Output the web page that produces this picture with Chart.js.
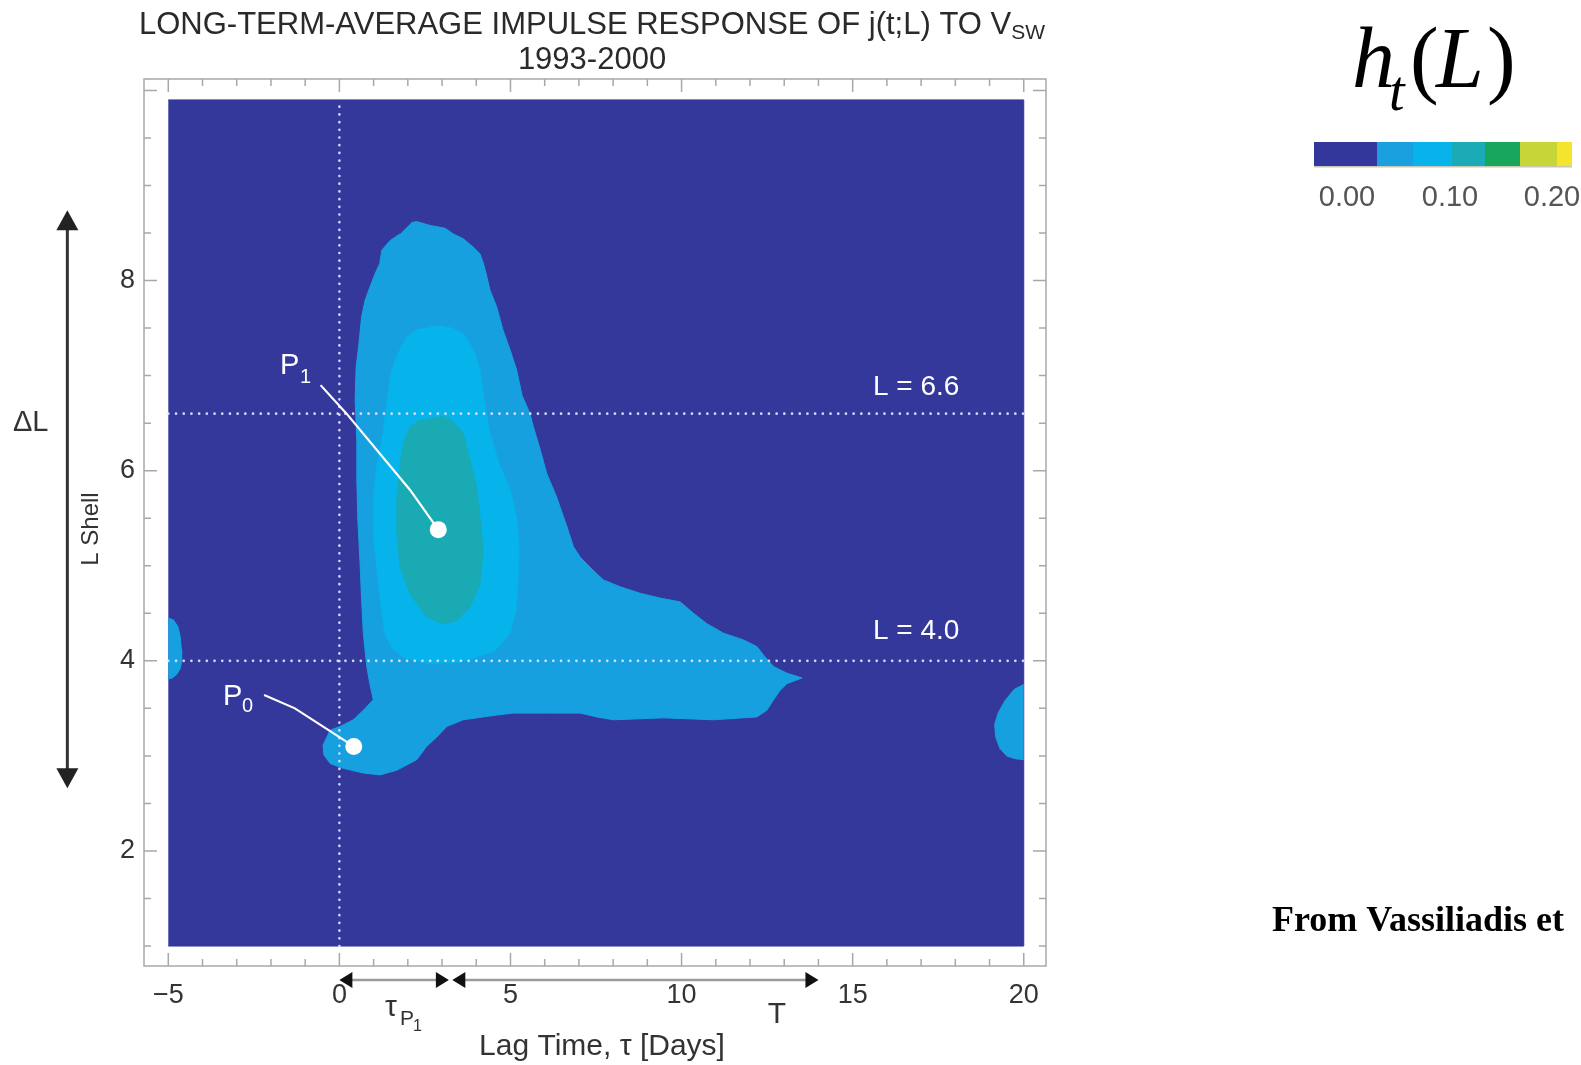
<!DOCTYPE html>
<html><head><meta charset="utf-8">
<script src="https://cdn.jsdelivr.net/npm/chart.js@4/dist/chart.umd.min.js"></script>
<style>html,body{margin:0;padding:0;background:#fff;overflow:hidden}canvas{display:block}</style>
</head><body>
<canvas id="c" width="1581" height="1065"></canvas>
<script>
// ---- data (lag time in days, L shell) ----
const xTicks = [-5, 0, 5, 10, 15, 20];
const yTicks = [2, 4, 6, 8];
const xFrame = [-5.71, 20.65];
const yFrame = [0.79, 10.12];
const backgroundField = [[-5, 1.0], [20, 1.0], [20, 9.9], [-5, 9.9]];
const contour1Main = [[2.11,8.61],[2.26,8.62],[2.65,8.58],[3.09,8.55],[3.33,8.49],[3.62,8.44],[3.92,8.35],[4.11,8.28],[4.21,8.18],[4.31,8.04],[4.40,7.90],[4.60,7.72],[4.78,7.48],[4.99,7.27],[5.18,7.06],[5.34,6.79],[5.57,6.60],[5.67,6.46],[5.87,6.22],[6.06,5.97],[6.35,5.72],[6.65,5.41],[6.84,5.20],[7.04,5.09],[7.42,4.95],[7.72,4.85],[8.20,4.78],[8.79,4.71],[9.37,4.66],[9.96,4.62],[10.35,4.50],[10.74,4.39],[11.23,4.29],[11.81,4.22],[12.20,4.15],[12.44,4.04],[12.69,3.94],[13.08,3.87],[13.52,3.82],[13.08,3.76],[12.88,3.69],[12.69,3.59],[12.49,3.48],[12.20,3.41],[10.93,3.38],[9.47,3.40],[8.01,3.38],[7.52,3.41],[7.04,3.45],[6.06,3.45],[5.08,3.45],[4.60,3.43],[3.62,3.38],[3.14,3.31],[2.85,3.20],[2.55,3.10],[2.26,2.96],[1.68,2.85],[1.19,2.80],[0.70,2.82],[0.11,2.87],[-0.27,2.92],[-0.45,3.01],[-0.48,3.11],[-0.27,3.27],[0.02,3.31],[0.41,3.38],[0.70,3.48],[0.99,3.59],[0.89,3.76],[0.80,3.94],[0.70,4.29],[0.65,4.64],[0.60,5.06],[0.54,5.48],[0.51,5.90],[0.51,6.32],[0.46,6.74],[0.49,7.09],[0.55,7.27],[0.60,7.44],[0.65,7.62],[0.75,7.79],[0.89,7.93],[1.04,8.07],[1.18,8.18],[1.24,8.32],[1.48,8.42],[1.77,8.49]];
const contour1Left = [[-5,4.45],[-4.85,4.43],[-4.72,4.36],[-4.65,4.25],[-4.62,4.12],[-4.61,4.0],[-4.65,3.92],[-4.75,3.86],[-4.88,3.82],[-5,3.81]];
const contour1Right = [[20,3.75],[19.72,3.70],[19.45,3.58],[19.25,3.45],[19.15,3.33],[19.18,3.2],[19.3,3.08],[19.5,3.0],[19.75,2.97],[20,2.96]];
const contour2 = [[2.65,7.51],[2.94,7.52],[3.29,7.50],[3.62,7.44],[3.92,7.27],[4.11,7.06],[4.23,6.74],[4.40,6.39],[4.70,6.04],[4.99,5.80],[5.19,5.48],[5.25,5.16],[5.22,4.85],[5.16,4.53],[4.99,4.29],[4.55,4.11],[4.11,4.05],[3.53,3.99],[2.65,3.97],[1.92,4.03],[1.54,4.13],[1.33,4.29],[1.19,4.64],[1.09,4.99],[0.99,5.34],[0.99,5.69],[1.09,6.04],[1.28,6.39],[1.39,6.74],[1.53,7.06],[1.68,7.21],[1.97,7.41],[2.30,7.49]];
const contour3 = [[2.65,6.55],[3.03,6.57],[3.29,6.53],[3.62,6.39],[3.82,6.11],[4.01,5.83],[4.11,5.51],[4.20,5.16],[4.11,4.81],[3.82,4.57],[3.44,4.43],[3.03,4.39],[2.56,4.46],[2.06,4.71],[1.77,4.99],[1.68,5.34],[1.68,5.69],[1.77,6.04],[1.87,6.29],[2.06,6.46],[2.36,6.53]];
const refShells = [6.6, 4.0];
const refShellLabels = ['L = 6.6', 'L = 4.0'];
const refLag = 0;
const pointP1 = [2.89, 5.38];
const pointP0 = [0.42, 3.10];
const leaderP1 = [[-0.55,6.90],[0.21,6.60],[2.06,5.80],[2.89,5.38]];
const leaderP0 = [[-2.2,3.64],[-1.3,3.50],[0.42,3.10]];
const arrowTauP1 = [0, 3.2];
const arrowT = [3.3, 14.0];
const arrowLagLevel = 0.644;
const arrowDeltaL = [2.66, 8.74];
const arrowDeltaLLag = -7.95;
const levelColors = ['#34389b', '#17a0e0', '#06b3ea', '#19aab4'];
const colorbarColors = ['#33369a', '#1a9fdf', '#07b3ea', '#1aabb7', '#17a65b', '#c8d538', '#f5e42c'];
const colorbarLabels = ['0.00', '0.10', '0.20'];

const xy = a => a.map(([x, y]) => ({x, y}));
const shape = (pts, color, order) => ({data: xy(pts), showLine: true, fill: 'shape', backgroundColor: color, borderColor: color, borderWidth: 1, pointRadius: 0, tension: 0, order});
const dotted = (pts, order) => ({data: xy(pts), showLine: true, fill: false, borderColor: 'rgba(228,232,255,0.9)', borderWidth: 2.6, borderDash: [0.1, 7.6], borderCapStyle: 'round', pointRadius: 0, order});

Chart.defaults.font.family = '"Liberation Sans", Arial, sans-serif';

const decor = {
  id: 'decor',
  afterDraw(chart) {
    const ctx = chart.ctx, xs = chart.scales.x, ys = chart.scales.y, a = chart.chartArea;
    const X = v => xs.getPixelForValue(v), Y = v => ys.getPixelForValue(v);
    ctx.save();
    // frame
    ctx.strokeStyle = '#a8a8a8'; ctx.lineWidth = 1.5;
    ctx.strokeRect(a.left, a.top, a.right - a.left, a.bottom - a.top);
    ctx.beginPath();
    for (let v = -5; v <= 20; v += 1) {
      const L = v % 5 === 0 ? 13 : 7, px = X(v);
      ctx.moveTo(px, a.bottom); ctx.lineTo(px, a.bottom - L);
      ctx.moveTo(px, a.top); ctx.lineTo(px, a.top + L);
    }
    for (let v = 1; v <= 10; v += 0.5) {
      const L = v % 2 === 0 ? 13 : 7, py = Y(v);
      ctx.moveTo(a.left, py); ctx.lineTo(a.left + L, py);
      ctx.moveTo(a.right, py); ctx.lineTo(a.right - L, py);
    }
    ctx.stroke();

    const head = (tx, ty, dx, dy, len, half) => {
      const bx = tx - dx * len, by = ty - dy * len;
      ctx.beginPath(); ctx.moveTo(tx, ty);
      ctx.lineTo(bx - dy * half, by + dx * half);
      ctx.lineTo(bx + dy * half, by - dx * half);
      ctx.closePath(); ctx.fill();
    };
    // Delta L arrow
    const ax = X(arrowDeltaLLag), ayT = Y(arrowDeltaL[1]), ayB = Y(arrowDeltaL[0]);
    ctx.strokeStyle = '#333'; ctx.fillStyle = '#222'; ctx.lineWidth = 3;
    ctx.beginPath(); ctx.moveTo(ax, ayT + 10); ctx.lineTo(ax, ayB - 10); ctx.stroke();
    head(ax, ayT, 0, -1, 20, 11); head(ax, ayB, 0, 1, 20, 11);
    // lag arrows
    const ly = Y(arrowLagLevel);
    [arrowTauP1, arrowT].forEach(([s, e]) => {
      const xs0 = X(s), xe = X(e);
      ctx.strokeStyle = '#9a9a9a'; ctx.lineWidth = 2.5;
      ctx.beginPath(); ctx.moveTo(xs0 + 6, ly); ctx.lineTo(xe - 6, ly); ctx.stroke();
      ctx.fillStyle = '#111';
      head(xs0, ly, -1, 0, 13, 8); head(xe, ly, 1, 0, 13, 8);
    });

    // texts
    ctx.textBaseline = 'alphabetic';
    const F = (s, w) => (w || '') + ' ' + s + 'px "Liberation Sans", Arial, sans-serif';
    ctx.fillStyle = '#2a2a2a';
    ctx.font = F(31); const t1 = 'LONG-TERM-AVERAGE IMPULSE RESPONSE OF j(t;L) TO V';
    const w1 = ctx.measureText(t1).width; ctx.font = F(21); const w2 = ctx.measureText('SW').width;
    let sx = 592 - (w1 + w2) / 2; ctx.textAlign = 'left';
    ctx.font = F(31); ctx.fillText(t1, sx, 33.5);
    ctx.font = F(21); ctx.fillText('SW', sx + w1, 39);
    ctx.textAlign = 'center'; ctx.font = F(31); ctx.fillText('1993-2000', 592, 68.5);
    // axis titles
    ctx.fillStyle = '#333';
    ctx.font = F(30); ctx.fillText('Lag Time, \u03c4 [Days]', 602, 1055);
    ctx.save(); ctx.translate(98, 529); ctx.rotate(-Math.PI / 2); ctx.font = F(24); ctx.fillText('L Shell', 0, 0); ctx.restore();
    ctx.textAlign = 'left'; ctx.font = F(29); ctx.fillText('\u0394L', 13, 431);
    ctx.font = F(30); ctx.fillText('\u03c4', 385, 1016);
    ctx.font = F(21); ctx.fillText('P', 400, 1025);
    ctx.font = F(16); ctx.fillText('1', 413, 1031);
    ctx.textAlign = 'center'; ctx.font = F(30); ctx.fillText('T', 777, 1023);
    // in-plot labels
    ctx.fillStyle = '#ffffff'; ctx.textAlign = 'left';
    ctx.font = F(29); ctx.fillText('P', 280, 374);
    ctx.font = F(20); ctx.fillText('1', 300, 383);
    ctx.font = F(29); ctx.fillText('P', 223, 705);
    ctx.font = F(20); ctx.fillText('0', 242, 712);
    ctx.font = F(28);
    ctx.fillText(refShellLabels[0], 873, 395);
    ctx.fillText(refShellLabels[1], 873, 639);

    // right side: h_t(L) and colour bar
    ctx.fillStyle = '#000';
    const serif = '"Liberation Serif", "Times New Roman", serif';
    ctx.font = 'italic 86px ' + serif; ctx.fillText('h', 1352, 87);
    ctx.font = 'italic 56px ' + serif; ctx.fillText('t', 1389, 110);
    ctx.font = '86px ' + serif; ctx.fillText('(', 1410, 87);
    ctx.font = 'italic 86px ' + serif; ctx.fillText('L', 1436, 87);
    ctx.font = '86px ' + serif; ctx.fillText(')', 1487, 87);
    const cbEdges = [1314, 1377, 1413, 1452, 1485, 1520, 1557, 1572];
    colorbarColors.forEach((c, i) => { ctx.fillStyle = c; ctx.fillRect(cbEdges[i], 142, cbEdges[i + 1] - cbEdges[i], 24); });
    ctx.fillStyle = '#c8c8b8'; ctx.fillRect(1314, 166, 258, 1.5);
    ctx.fillStyle = '#555'; ctx.textAlign = 'center'; ctx.font = F(29);
    [1347, 1450, 1552].forEach((px, i) => ctx.fillText(colorbarLabels[i], px, 206));
    ctx.fillStyle = '#000'; ctx.textAlign = 'left';
    ctx.font = 'bold 36px ' + serif;
    ctx.fillText('From Vassiliadis et', 1272, 931);
    ctx.restore();
  }
};

new Chart(document.getElementById('c'), {
  type: 'scatter',
  data: {
    datasets: [
      shape(backgroundField, levelColors[0], 10),
      shape(contour1Main, levelColors[1], 9),
      shape(contour1Left, levelColors[1], 9),
      shape(contour1Right, levelColors[1], 9),
      shape(contour2, levelColors[2], 8),
      shape(contour3, levelColors[3], 7),
      dotted([[-5, refShells[0]], [20, refShells[0]]], 5),
      dotted([[-5, refShells[1]], [20, refShells[1]]], 5),
      dotted([[refLag, 1.0], [refLag, 9.9]], 5),
      {data: xy(leaderP1), showLine: true, fill: false, borderColor: '#ffffff', borderWidth: 2.2, pointRadius: 0, order: 3},
      {data: xy(leaderP0), showLine: true, fill: false, borderColor: '#ffffff', borderWidth: 2.2, pointRadius: 0, order: 3},
      {data: xy([pointP1, pointP0]), showLine: false, pointRadius: 8.5, pointBackgroundColor: '#ffffff', pointBorderWidth: 0, order: 1}
    ]
  },
  options: {
    responsive: false, animation: false, devicePixelRatio: 1,
    layout: {padding: {left: 0, top: 79, right: 535, bottom: 0}},
    plugins: {legend: {display: false}, tooltip: {enabled: false}},
    events: [],
    scales: {
      x: {
        type: 'linear', min: xFrame[0], max: xFrame[1],
        grid: {display: false, drawTicks: false}, border: {display: false},
        afterBuildTicks: s => { s.ticks = xTicks.map(v => ({value: v})); },
        afterFit: s => { s.height = 99; },
        ticks: {autoSkip: false, maxRotation: 0, padding: 13, color: '#333', font: {size: 27},
          callback: v => (v < 0 ? '\u2212' + Math.abs(v) : String(v))}
      },
      y: {
        type: 'linear', min: yFrame[0], max: yFrame[1],
        grid: {display: false, drawTicks: false}, border: {display: false},
        afterBuildTicks: s => { s.ticks = yTicks.map(v => ({value: v})); },
        afterFit: s => { s.width = 144; },
        ticks: {autoSkip: false, padding: 9, color: '#333', font: {size: 27}, callback: v => String(v)}
      }
    }
  },
  plugins: [decor]
});
</script>
</body></html>
